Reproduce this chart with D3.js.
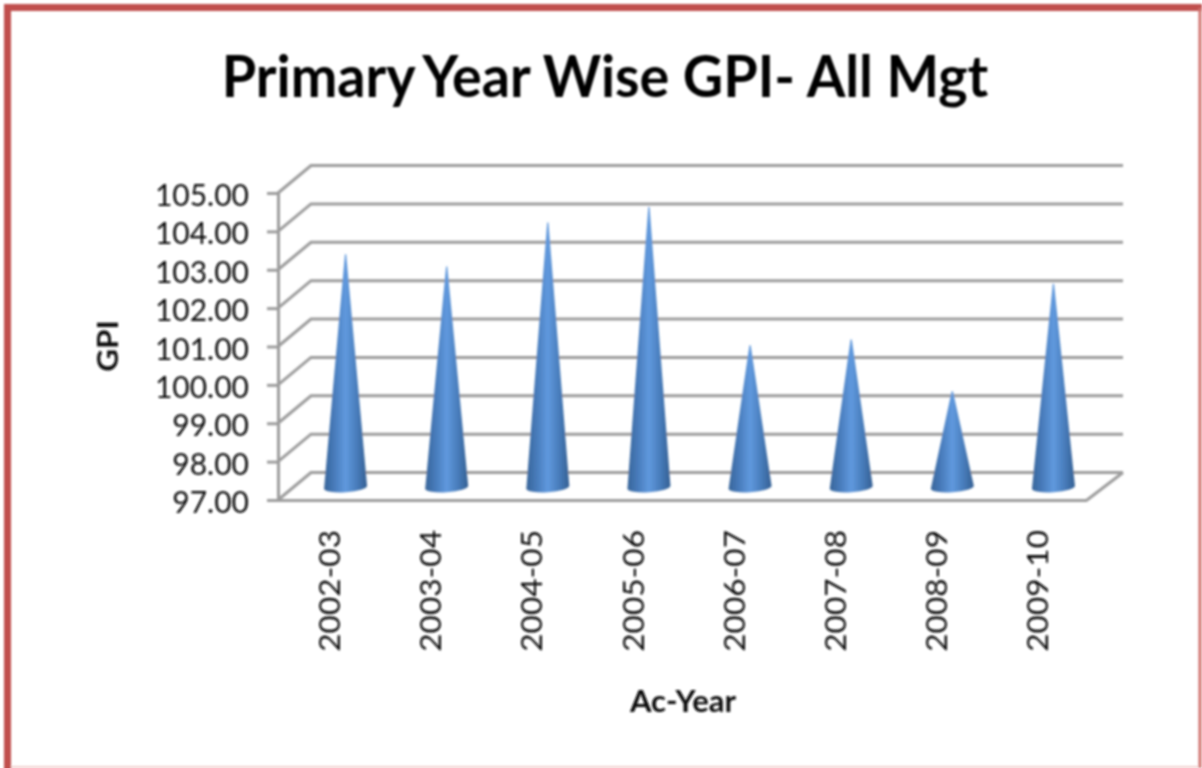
<!DOCTYPE html>
<html>
<head>
<meta charset="utf-8">
<script src="https://cdn.jsdelivr.net/npm/d3@7"></script>
<style>
  html, body { margin: 0; padding: 0; background: #fff; overflow: hidden; }
  text { font-family: Lato, "Open Sans", sans-serif; }
</style>
</head>
<body>
<svg id="chart" width="1202" height="768"></svg>
<script>
var years = ["2002-03", "2003-04", "2004-05", "2005-06", "2006-07", "2007-08", "2008-09", "2009-10"];
var gpi = [103.07, 102.75, 103.9, 104.3, 100.7, 100.85, 99.5, 102.3];
var yTicks = [97, 98, 99, 100, 101, 102, 103, 104, 105];

var svg = d3.select("#chart");
var margin = {top: 193, bottom: 268, left: 278, right: 115};
var width = +svg.attr("width"), height = +svg.attr("height");
var depth = {x: 33, y: -27.5};
var wallRight = 1123;
var inkColor = "#111";

var x = d3.scaleBand().domain(years)
    .range([margin.left, width - margin.right])
    .paddingInner(0.3).paddingOuter(0.15);
var y = d3.scaleLinear().domain([97, 105])
    .range([height - margin.bottom, margin.top]);

// slight softening, the source is an enlarged screenshot
var defs = svg.append("defs");
defs.append("filter").attr("id", "soft")
    .append("feGaussianBlur").attr("stdDeviation", 0.9);

var coneFill = defs.append("linearGradient").attr("id", "cone");
[[0, "#386599"], [0.22, "#4679b8"], [0.5, "#6099de"], [0.78, "#467ab8"], [1, "#345f92"]]
  .forEach(s => coneFill.append("stop").attr("offset", s[0]).attr("stop-color", s[1]));

var g = svg.append("g").attr("filter", "url(#soft)");

// outer frame, runs off the bottom of the picture
g.append("path")
  .attr("d", "M7.5,776V7.5H1202")
  .attr("fill", "none").attr("stroke", "#c0504d").attr("stroke-width", 7);
g.append("path")
  .attr("d", "M1200,8V768")
  .attr("fill", "none").attr("stroke", "#cf6f6c").attr("stroke-width", 3);
g.append("path")
  .attr("d", "M11,767H1198")
  .attr("fill", "none").attr("stroke", "#f2cfcd").attr("stroke-width", 2);

// back wall lines and the side wall diagonals
var grid = "#9c9c9c";
g.append("g").selectAll("path").data(yTicks).join("path")
  .attr("d", d => `M${margin.left},${y(d)}l${depth.x},${depth.y}H${wallRight}`)
  .attr("fill", "none").attr("stroke", grid).attr("stroke-width", 3);

// floor
g.append("path")
  .attr("d", `M${width - margin.right},${y(97)}L${wallRight},${y(97) + depth.y}`)
  .attr("stroke", grid).attr("stroke-width", 3);

var yAxis = g.append("g")
  .attr("transform", `translate(${margin.left},0)`)
  .call(d3.axisLeft(y).tickValues(yTicks).tickFormat(d3.format(".2f")).tickSize(11).tickPadding(18));
yAxis.selectAll("line, path").attr("stroke", grid).attr("stroke-width", 3);
yAxis.selectAll("text").attr("font-size", 30).attr("fill", inkColor).attr("dy", "0.42em");

var xAxis = g.append("g")
  .attr("transform", `translate(0,${y(97)})`)
  .call(d3.axisBottom(x).tickSize(0).tickPadding(0));
xAxis.select(".domain").attr("stroke", grid).attr("stroke-width", 3);
xAxis.selectAll("text")
  .attr("font-size", 29).attr("fill", inkColor)
  .attr("text-anchor", "end").attr("dy", "0.35em")
  .attr("transform", "translate(1.5,30) rotate(-90) scale(1.09,1)");

// cones stand in the middle of the floor, the base ellipse leans a little
var floorY = y(97) + depth.y / 2 + 1;
var xMid = d => x(d) + x.bandwidth() / 2 + depth.x / 2 + 0.5;
var baseR = 21.5;
function conePath(d, i) {
  var cx = xMid(years[i]);
  var tip = y(d) + depth.y / 2 + 1;
  return `M${cx - 0.6},${tip}L${cx - baseR},${floorY + 1.5}A${baseR},5 -4 0 0 ${cx + baseR},${floorY - 1.5}L${cx + 0.6},${tip}Z`;
}
g.append("g").selectAll("path").data(gpi).join("path")
  .attr("d", conePath)
  .attr("fill", "url(#cone)");

var title = g.append("text")
  .attr("transform", "translate(605,97) scale(0.96,1)")
  .attr("text-anchor", "middle").attr("font-size", 58).attr("font-weight", 700)
  .attr("fill", "#000");
title.append("tspan").text("Primary");
title.append("tspan").attr("dx", -5).text(" Year Wise GPI- All Mgt");

g.append("text").attr("text-anchor", "middle").attr("font-size", 28).attr("font-weight", 700)
  .attr("fill", inkColor)
  .attr("transform", "translate(118,346) rotate(-90) scale(1.12,1)").text("GPI");

g.append("text").attr("x", 683).attr("y", 712)
  .attr("text-anchor", "middle").attr("font-size", 31).attr("font-weight", 700)
  .attr("fill", inkColor).text("Ac-Year");
</script>
</body>
</html>
